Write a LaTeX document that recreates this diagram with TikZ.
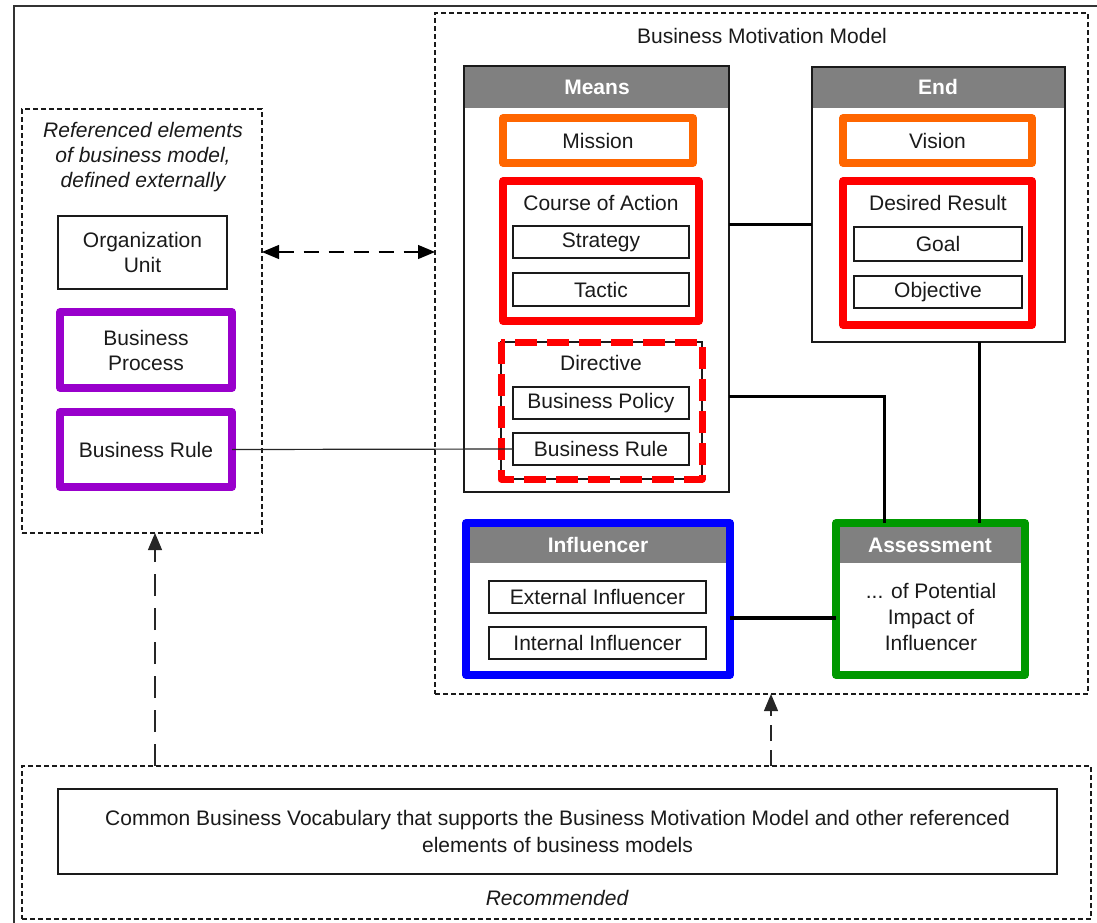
\documentclass[tikz,border=0pt]{standalone}
\usepackage{fontspec}
\setmainfont{Liberation Sans}
\usetikzlibrary{arrows.meta}
\definecolor{hdrgray}{HTML}{808080}
\definecolor{hlorange}{HTML}{FF6600}
\definecolor{hlred}{HTML}{FF0000}
\definecolor{hlpurple}{HTML}{9900CC}
\definecolor{hlblue}{HTML}{0000FF}
\definecolor{hlgreen}{HTML}{009900}
\definecolor{ink}{HTML}{1A1A1A}

\begin{document}
\begin{tikzpicture}[x=1pt,y=-1pt,
  every node/.style={inner sep=0pt, outer sep=0pt, text=ink,
    font=\fontsize{21}{25}\selectfont, align=center},
  plainbox/.style={draw=ink, line width=1.2pt, fill=white},
  hlbox/.style={draw=#1, line width=7.5pt, line join=round, fill=white},
  dashframe/.style={draw=ink, line width=1.1pt, dash pattern=on 5pt off 3pt},
  header/.style={path picture={\fill[hdrgray] (path picture bounding box.north west)
      rectangle ([yshift=-#1]path picture bounding box.north east);}},
  hdrtext/.style={text=white, font=\fontsize{21}{25}\selectfont\bfseries},
  link/.style={draw=black, line width=3pt},
  >={Triangle[length=17pt,width=14pt]}
]
\useasboundingbox (0,0) rectangle (1097,922);
\clip (0,0) rectangle (1097,922);

% page frame
\draw[line width=2pt, black!80] (14,6) rectangle (1130,960);

% externally defined elements
\node[dashframe, minimum width=240, minimum height=424] (ext) at (142,321) {};
\node[font=\fontsize{21}{25}\selectfont\itshape] (extT) at (143,157)
  {Referenced elements\\of business model,\\defined externally};
\node[plainbox, minimum width=169, minimum height=73] (org) at (142.5,252.5) {Organization\\Unit};
\node[hlbox=hlpurple, minimum width=172, minimum height=76] (bproc) at (146,350) {Business\\Process};
\node[hlbox=hlpurple, minimum width=172, minimum height=75] (bruleA) at (146,449.5) {Business Rule};

% business motivation model
\node[dashframe, minimum width=653, minimum height=681] (bmm) at (761.5,353.5) {};
\node (bmmT) at (762,36) {Business Motivation Model};

% Means
\node[plainbox, header=42pt, minimum width=265, minimum height=426] (means) at (596.5,279) {};
\node[hdrtext] (meansH) at (597,87) {Means};
\node[hlbox=hlorange, minimum width=190, minimum height=45] (mission) at (598,140.5) {Mission};
\node[hlbox=hlred, minimum width=196, minimum height=140] (coa) at (601,251) {};
\node (coaT) at (601,203) {Course of Action};
\node[plainbox, minimum width=176, minimum height=32] (strategy) at (601,242) {Strategy};
\node[plainbox, minimum width=176, minimum height=33] (tactic) at (601,289.5) {Tactic};
\node[plainbox, minimum width=201, minimum height=137] (directive) at (601.5,410.5) {};
\draw[hlred, line width=7pt, dash pattern=on 22pt off 10pt, line join=round]
  (directive.north west) rectangle (directive.south east);
\node (directiveT) at (601,363) {Directive};
\node[plainbox, minimum width=176, minimum height=32] (bpolicy) at (601,403) {Business Policy};
\node[plainbox, minimum width=176, minimum height=32] (bruleB) at (601,449) {Business Rule};

% End
\node[plainbox, header=41pt, minimum width=253, minimum height=275] (end) at (938.5,204.5) {};
\node[hdrtext] (endH) at (938,87) {End};
\node[hlbox=hlorange, minimum width=189, minimum height=45] (vision) at (937.5,140.5) {Vision};
\node[hlbox=hlred, minimum width=189, minimum height=144] (desired) at (937.5,253) {};
\node (desiredT) at (938,203) {Desired Result};
\node[plainbox, minimum width=168, minimum height=34] (goal) at (938,244) {Goal};
\node[plainbox, minimum width=168, minimum height=32] (objective) at (938,292) {Objective};

% Influencer
\node[hlbox=hlblue, header=40pt, minimum width=264, minimum height=152] (infl) at (598,599) {};
\node[hdrtext] (inflH) at (598,545) {Influencer};
\node[plainbox, minimum width=217, minimum height=32] (extinf) at (597.5,597) {External Influencer};
\node[plainbox, minimum width=217, minimum height=32] (intinf) at (597.5,643) {Internal Influencer};

% Assessment
\node[hlbox=hlgreen, header=40pt, minimum width=189, minimum height=152] (assess) at (930.5,599) {};
\node[hdrtext] (assessH) at (930,545) {Assessment};
\node[font=\fontsize{21}{26}\selectfont] (assessT) at (931,617) {... of Potential\\Impact of\\Influencer};

% recommended vocabulary
\node[dashframe, minimum width=1069, minimum height=153] (rec) at (556.5,842.5) {};
\node[plainbox, minimum width=999, minimum height=85, font=\fontsize{21}{27}\selectfont] (vocab) at (557.5,831.5)
  {Common Business Vocabulary that supports the Business Motivation Model and other referenced\\elements of business models};
\node[font=\fontsize{21}{25}\selectfont\itshape] (recT) at (557,898) {Recommended};

% connectors
\draw[line width=1.2pt, black!85] (bruleA.east) -- (bruleB.west);
\draw[link] (means.east |- 0,224) -- (end.west |- 0,224);
\draw[link] (means.east |- 0,396) -| (assess.north -| 884,0);
\draw[link] (end.south -| 979,0) -- (assess.north -| 979,0);
\draw[link, line width=3.5pt] (infl.east |- 0,618) -- (assess.west |- 0,618);
\draw[line width=1.2pt, dash pattern=on 15pt off 10pt, <->]
  (ext.east |- 0,252) -- (bmm.west |- 0,252);
\draw[line width=1.2pt, black!85, dash pattern=on 22pt off 12pt, ->]
  (rec.north -| 155,0) -- (ext.south -| 155,0);
\draw[line width=1.2pt, black!85, dash pattern=on 16pt off 9pt, ->]
  (rec.north -| 771,0) -- (bmm.south -| 771,0);
\end{tikzpicture}
\end{document}
